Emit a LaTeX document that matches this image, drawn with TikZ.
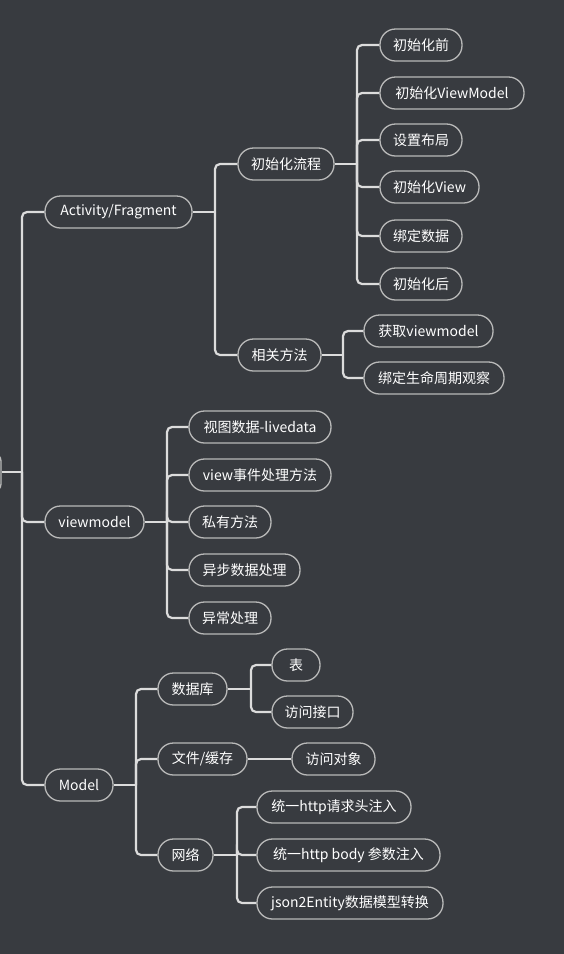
\documentclass[tikz,border=0pt]{standalone}
\usepackage{fontspec}
\setmainfont{Noto Sans CJK SC}
\usetikzlibrary{calc}
\definecolor{bg}{RGB}{56,59,64}
\definecolor{linec}{RGB}{220,220,220}
\definecolor{boxc}{RGB}{185,185,185}
\tikzset{
  topic/.style={draw=boxc, line width=1.3pt, rounded corners=15.5pt, minimum height=32pt,
    inner sep=0pt, text=white, font=\fontsize{14}{16}\selectfont, anchor=center},
  conn/.style={draw=linec, line width=2.2pt},
  turn/.style={conn, rounded corners=5pt},
}
\begin{document}
\begin{tikzpicture}[x=1pt,y=-1pt]
\fill[bg] (0,0) rectangle (564,954);
\useasboundingbox (0,0) rectangle (564,954);
\clip (0,0) rectangle (564,954);

% root (cut off at the left edge)
\node[topic, minimum width=61pt, minimum height=39pt, rounded corners=8pt] (root) at (-29.5,472.5) {};

% level 1
\node[topic, minimum width=147pt] (A) at (118.5,212) {Activity/Fragment};
\node[topic, minimum width=99pt] (V) at (94.5,522) {viewmodel};
\node[topic, minimum width=68pt] (M) at (79,785) {Model};

% Activity/Fragment children
\node[topic, minimum width=96pt] (A1) at (286,164) {初始化流程};
\node[topic, minimum width=83pt] (A2) at (279.5,355) {相关方法};

\node[topic, minimum width=82pt] (A1a) at (421,45) {初始化前};
\node[topic, minimum width=144pt] (A1b) at (452,93) {初始化ViewModel};
\node[topic, minimum width=82pt] (A1c) at (421,140) {设置布局};
\node[topic, minimum width=99pt] (A1d) at (429.5,187) {初始化View};
\node[topic, minimum width=82pt] (A1e) at (421,236) {绑定数据};
\node[topic, minimum width=82pt] (A1f) at (421,284) {初始化后};

\node[topic, minimum width=129pt] (A2a) at (428.5,331) {获取viewmodel};
\node[topic, minimum width=140pt] (A2b) at (434,378) {绑定生命周期观察};

% viewmodel children
\node[topic, minimum width=142pt] (V1) at (260,427) {视图数据-livedata};
\node[topic, minimum width=142pt] (V2) at (260,475) {view事件处理方法};
\node[topic, minimum width=82pt] (V3) at (230,522) {私有方法};
\node[topic, minimum width=111pt] (V4) at (244.5,570) {异步数据处理};
\node[topic, minimum width=82pt] (V5) at (230,618) {异常处理};

% Model children
\node[topic, minimum width=69pt] (M1) at (192.5,689) {数据库};
\node[topic, minimum width=89pt] (M2) at (202.5,759) {文件/缓存};
\node[topic, minimum width=55pt] (M3) at (185.5,855) {网络};

\node[topic, minimum width=48pt] (M1a) at (296,665) {表};
\node[topic, minimum width=81pt] (M1b) at (312.5,712) {访问接口};
\node[topic, minimum width=83pt] (M2a) at (333.5,759) {访问对象};
\node[topic, minimum width=154pt] (M3a) at (334,807) {统一http请求头注入};
\node[topic, minimum width=183pt] (M3b) at (348.5,855) {统一http body 参数注入};
\node[topic, minimum width=186pt] (M3c) at (350,903) {json2Entity数据模型转换};

% junction points
\coordinate (jR) at (22,472);
\coordinate (jA) at (215,212);
\coordinate (jA1) at (357,164);
\coordinate (jA2) at (343,355);
\coordinate (jV) at (167,522);
\coordinate (jM) at (136,785);
\coordinate (jM1) at (251,689);
\coordinate (jM3) at (237,855);

% connectors
\begin{scope}[on background layer/.try]
\draw[conn] (root.east |- jR) -- (jR);
\foreach \c in {A,V,M} \draw[turn] (jR) |- (\c.west);

\draw[conn] (A.east) -- (jA);
\foreach \c in {A1,A2} \draw[turn] (jA) |- (\c.west);

\draw[conn] (A1.east) -- (jA1);
\foreach \c in {A1a,A1b,A1c,A1d,A1e,A1f} \draw[turn] (jA1) |- (\c.west);

\draw[conn] (A2.east) -- (jA2);
\foreach \c in {A2a,A2b} \draw[turn] (jA2) |- (\c.west);

\draw[conn] (V.east) -- (jV);
\foreach \c in {V1,V2,V3,V4,V5} \draw[turn] (jV) |- (\c.west);

\draw[conn] (M.east) -- (jM);
\foreach \c in {M1,M2,M3} \draw[turn] (jM) |- (\c.west);

\draw[conn] (M1.east) -- (jM1);
\foreach \c in {M1a,M1b} \draw[turn] (jM1) |- (\c.west);

\draw[conn] (M2.east) -- (M2a.west);

\draw[conn] (M3.east) -- (jM3);
\foreach \c in {M3a,M3b,M3c} \draw[turn] (jM3) |- (\c.west);
\end{scope}
\end{tikzpicture}
\end{document}
